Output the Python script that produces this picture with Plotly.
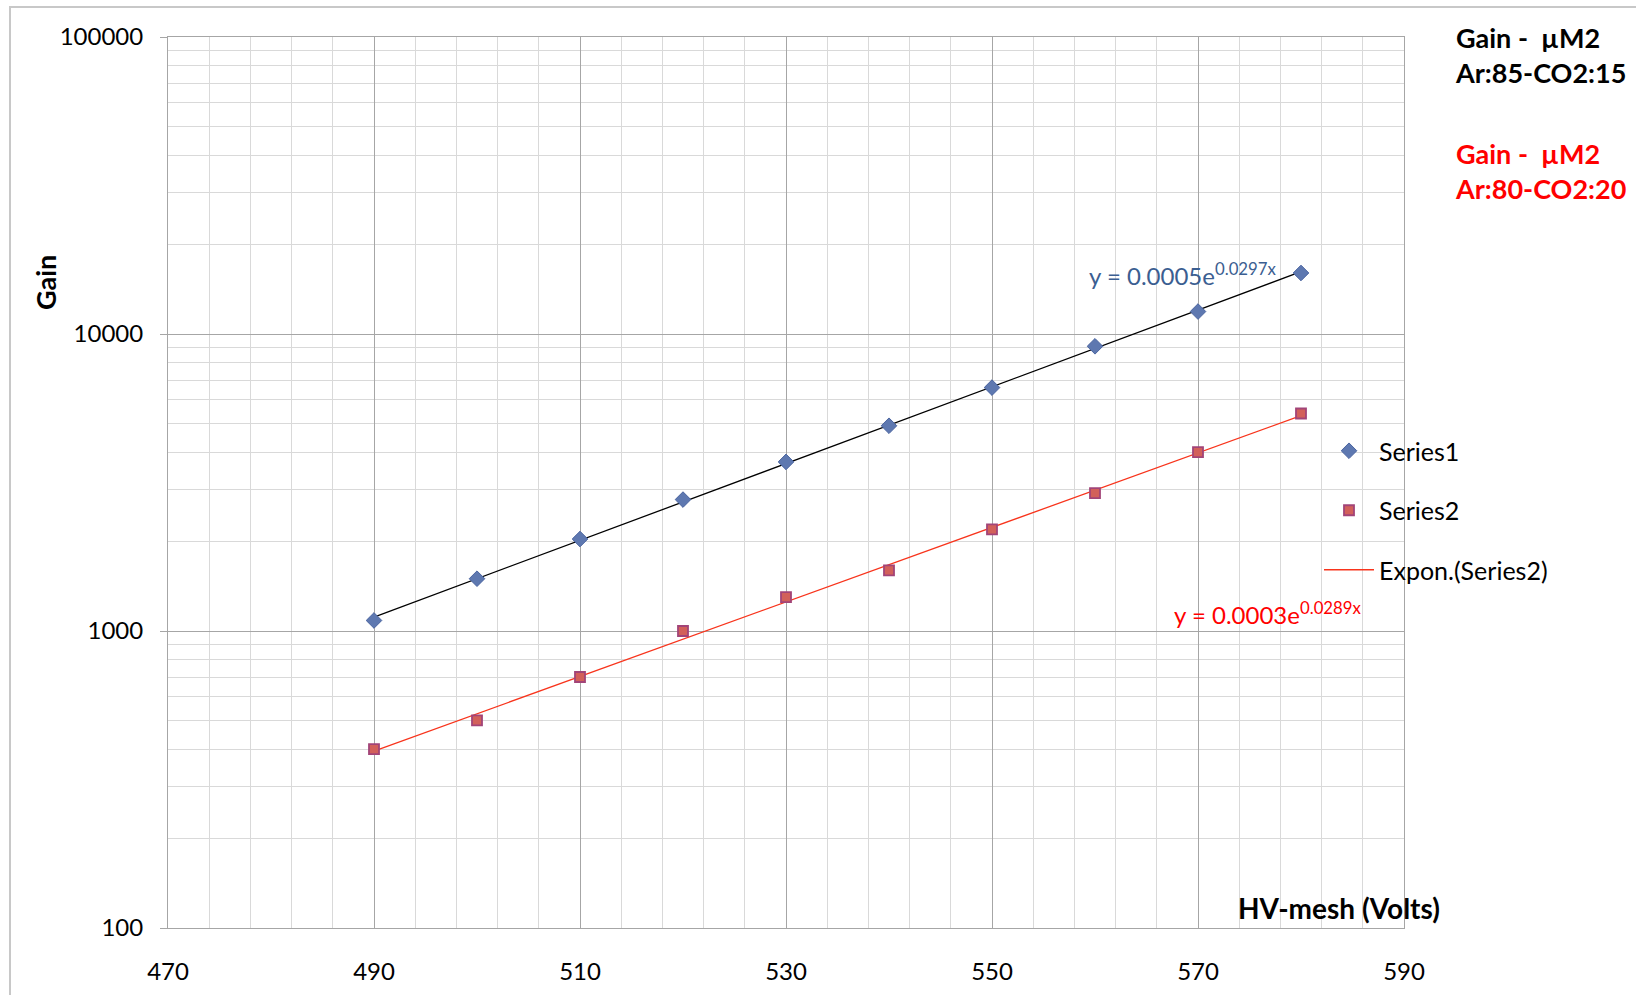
import numpy as np
import plotly.graph_objects as go

# ---- data ----
hv = [490, 500, 510, 520, 530, 540, 550, 560, 570, 580]
gain_s1 = [1085, 1500, 2040, 2770, 3710, 4910, 6600, 9090, 11900, 16050]
gain_s2 = [400, 500, 700, 1000, 1300, 1600, 2200, 2910, 4000, 5400]
x_ticks = [470, 490, 510, 530, 550, 570, 590]
y_ticks = [100, 1000, 10000, 100000]
y_minor = [k * 10 ** e for e in range(2, 5) for k in range(2, 10)]
eq1 = "y = 0.0005e<sup>0.0297x</sup>"
eq2 = "y = 0.0003e<sup>0.0289x</sup>"
title1 = "Gain -\u00a0 µM2<br>Ar:85-CO2:15"
title2 = "Gain -\u00a0 µM2<br>Ar:80-CO2:20"

# exponential trendlines (least squares on log, like Excel)
def expfit(x, y):
    b, a = np.polyfit(np.array(x, float), np.log(np.array(y, float)), 1)
    xx = np.array(x, float)
    return xx, np.exp(a) * np.exp(b * xx)

t1x, t1y = expfit(hv, gain_s1)
t2x, t2y = expfit(hv, gain_s2)

FONT = "Lato"
L, R, T, B = 168, 1404, 37, 928
W, H = R - L, B - T
def px(x): return (x - L) / W
def py(y): return (B - y) / H

fig = go.Figure()
fig.add_trace(go.Scatter(x=t1x, y=t1y, mode="lines", line=dict(color="#000000", width=1.3),
                         showlegend=False, hoverinfo="skip"))
fig.add_trace(go.Scatter(x=t2x, y=t2y, mode="lines", line=dict(color="#F8341C", width=1.3),
                         name="Expon.(Series2)", legendgroup="c", legendrank=3))
fig.add_trace(go.Scatter(x=hv, y=gain_s1, mode="markers", name="Series1", legendgroup="a", legendrank=1,
                         marker=dict(symbol="diamond", size=12, color="#5E78B0",
                                     line=dict(color="#4A64A0", width=1))))
fig.add_trace(go.Scatter(x=hv, y=gain_s2, mode="markers", name="Series2", legendgroup="b", legendrank=2,
                         marker=dict(symbol="square", size=10, color="#D2605A",
                                     line=dict(color="#A24478", width=1.8))))

grid_major = "#A6A6A6"
grid_minor = "#D9D9D9"

fig.update_xaxes(range=[470, 590], tickvals=x_ticks, ticktext=[str(v) for v in x_ticks],
                 automargin=False,
                 showgrid=True, gridcolor=grid_major, gridwidth=1,
                 minor=dict(dtick=4, tick0=470, showgrid=True, gridcolor=grid_minor, gridwidth=1),
                 showline=True, linecolor=grid_major, linewidth=1, mirror=True,
                 ticks="", ticklabelstandoff=22, zeroline=False,
                 tickfont=dict(family=FONT, size=24, color="#000"))
fig.update_yaxes(type="log", range=[2, 5], tickvals=y_ticks, ticktext=[str(v) for v in y_ticks],
                 automargin=False,
                 showgrid=True, gridcolor=grid_major, gridwidth=1,
                 minor=dict(tickvals=y_minor, showgrid=True, gridcolor=grid_minor, gridwidth=1),
                 showline=True, linecolor=grid_major, linewidth=1, mirror=True,
                 ticks="outside", ticklen=7, tickcolor=grid_major, ticklabelstandoff=12,
                 zeroline=False, tickfont=dict(family=FONT, size=24, color="#000"))

shapes = [
    # chart-area border
    dict(type="rect", xref="paper", yref="paper", x0=px(10), x1=px(1700), y0=py(1100), y1=py(7),
         line=dict(color="#C8C8C8", width=2), fillcolor="rgba(0,0,0,0)", layer="below"),
    # legend background (below traces, above grid)
    dict(type="rect", xref="x domain", yref="y domain", x0=px(1263), x1=px(1620), y0=py(593), y1=py(417),
         line=dict(width=0), fillcolor="white", layer="below"),
]

annotations = [
    dict(text="<b>Gain</b>", xref="paper", yref="paper", x=px(45), y=py(283), textangle=-90,
         showarrow=False, font=dict(family=FONT, size=27, color="#000"), xanchor="center", yanchor="middle"),
    dict(text="<b>HV-mesh (Volts)</b>", xref="paper", yref="paper", x=px(1339), y=py(908),
         showarrow=False, font=dict(family=FONT, size=28, color="#000"), xanchor="center", yanchor="middle"),
    dict(text="<b>" + title1 + "</b>", xref="paper", yref="paper", x=px(1453), y=py(55), align="left",
         showarrow=False, font=dict(family=FONT, size=27, color="#000"), xanchor="left", yanchor="middle"),
    dict(text="<b>" + title2 + "</b>", xref="paper", yref="paper", x=px(1453), y=py(171), align="left",
         showarrow=False, font=dict(family=FONT, size=27, color="#FF0000"), xanchor="left", yanchor="middle"),
    dict(text=eq1, xref="paper", yref="paper", x=px(1087), y=py(274), align="left",
         showarrow=False, font=dict(family=FONT, size=24, color="#3B5E91"), xanchor="left", yanchor="middle"),
    dict(text=eq2, xref="paper", yref="paper", x=px(1172), y=py(613), align="left",
         showarrow=False, font=dict(family=FONT, size=24, color="#FF0000"), xanchor="left", yanchor="middle"),
]

fig.update_layout(
    width=1636, height=995,
    margin=dict(l=L, r=1636 - R, t=T, b=995 - B),
    paper_bgcolor="white", plot_bgcolor="white",
    shapes=shapes, annotations=annotations,
    legend=dict(x=px(1319), y=py(428), xanchor="left", yanchor="top", bgcolor="rgba(0,0,0,0)",
                font=dict(family=FONT, size=25, color="#000"), itemwidth=50,
                traceorder="grouped", tracegroupgap=24),
    font=dict(family=FONT),
)

fig.write_html("out.html")
